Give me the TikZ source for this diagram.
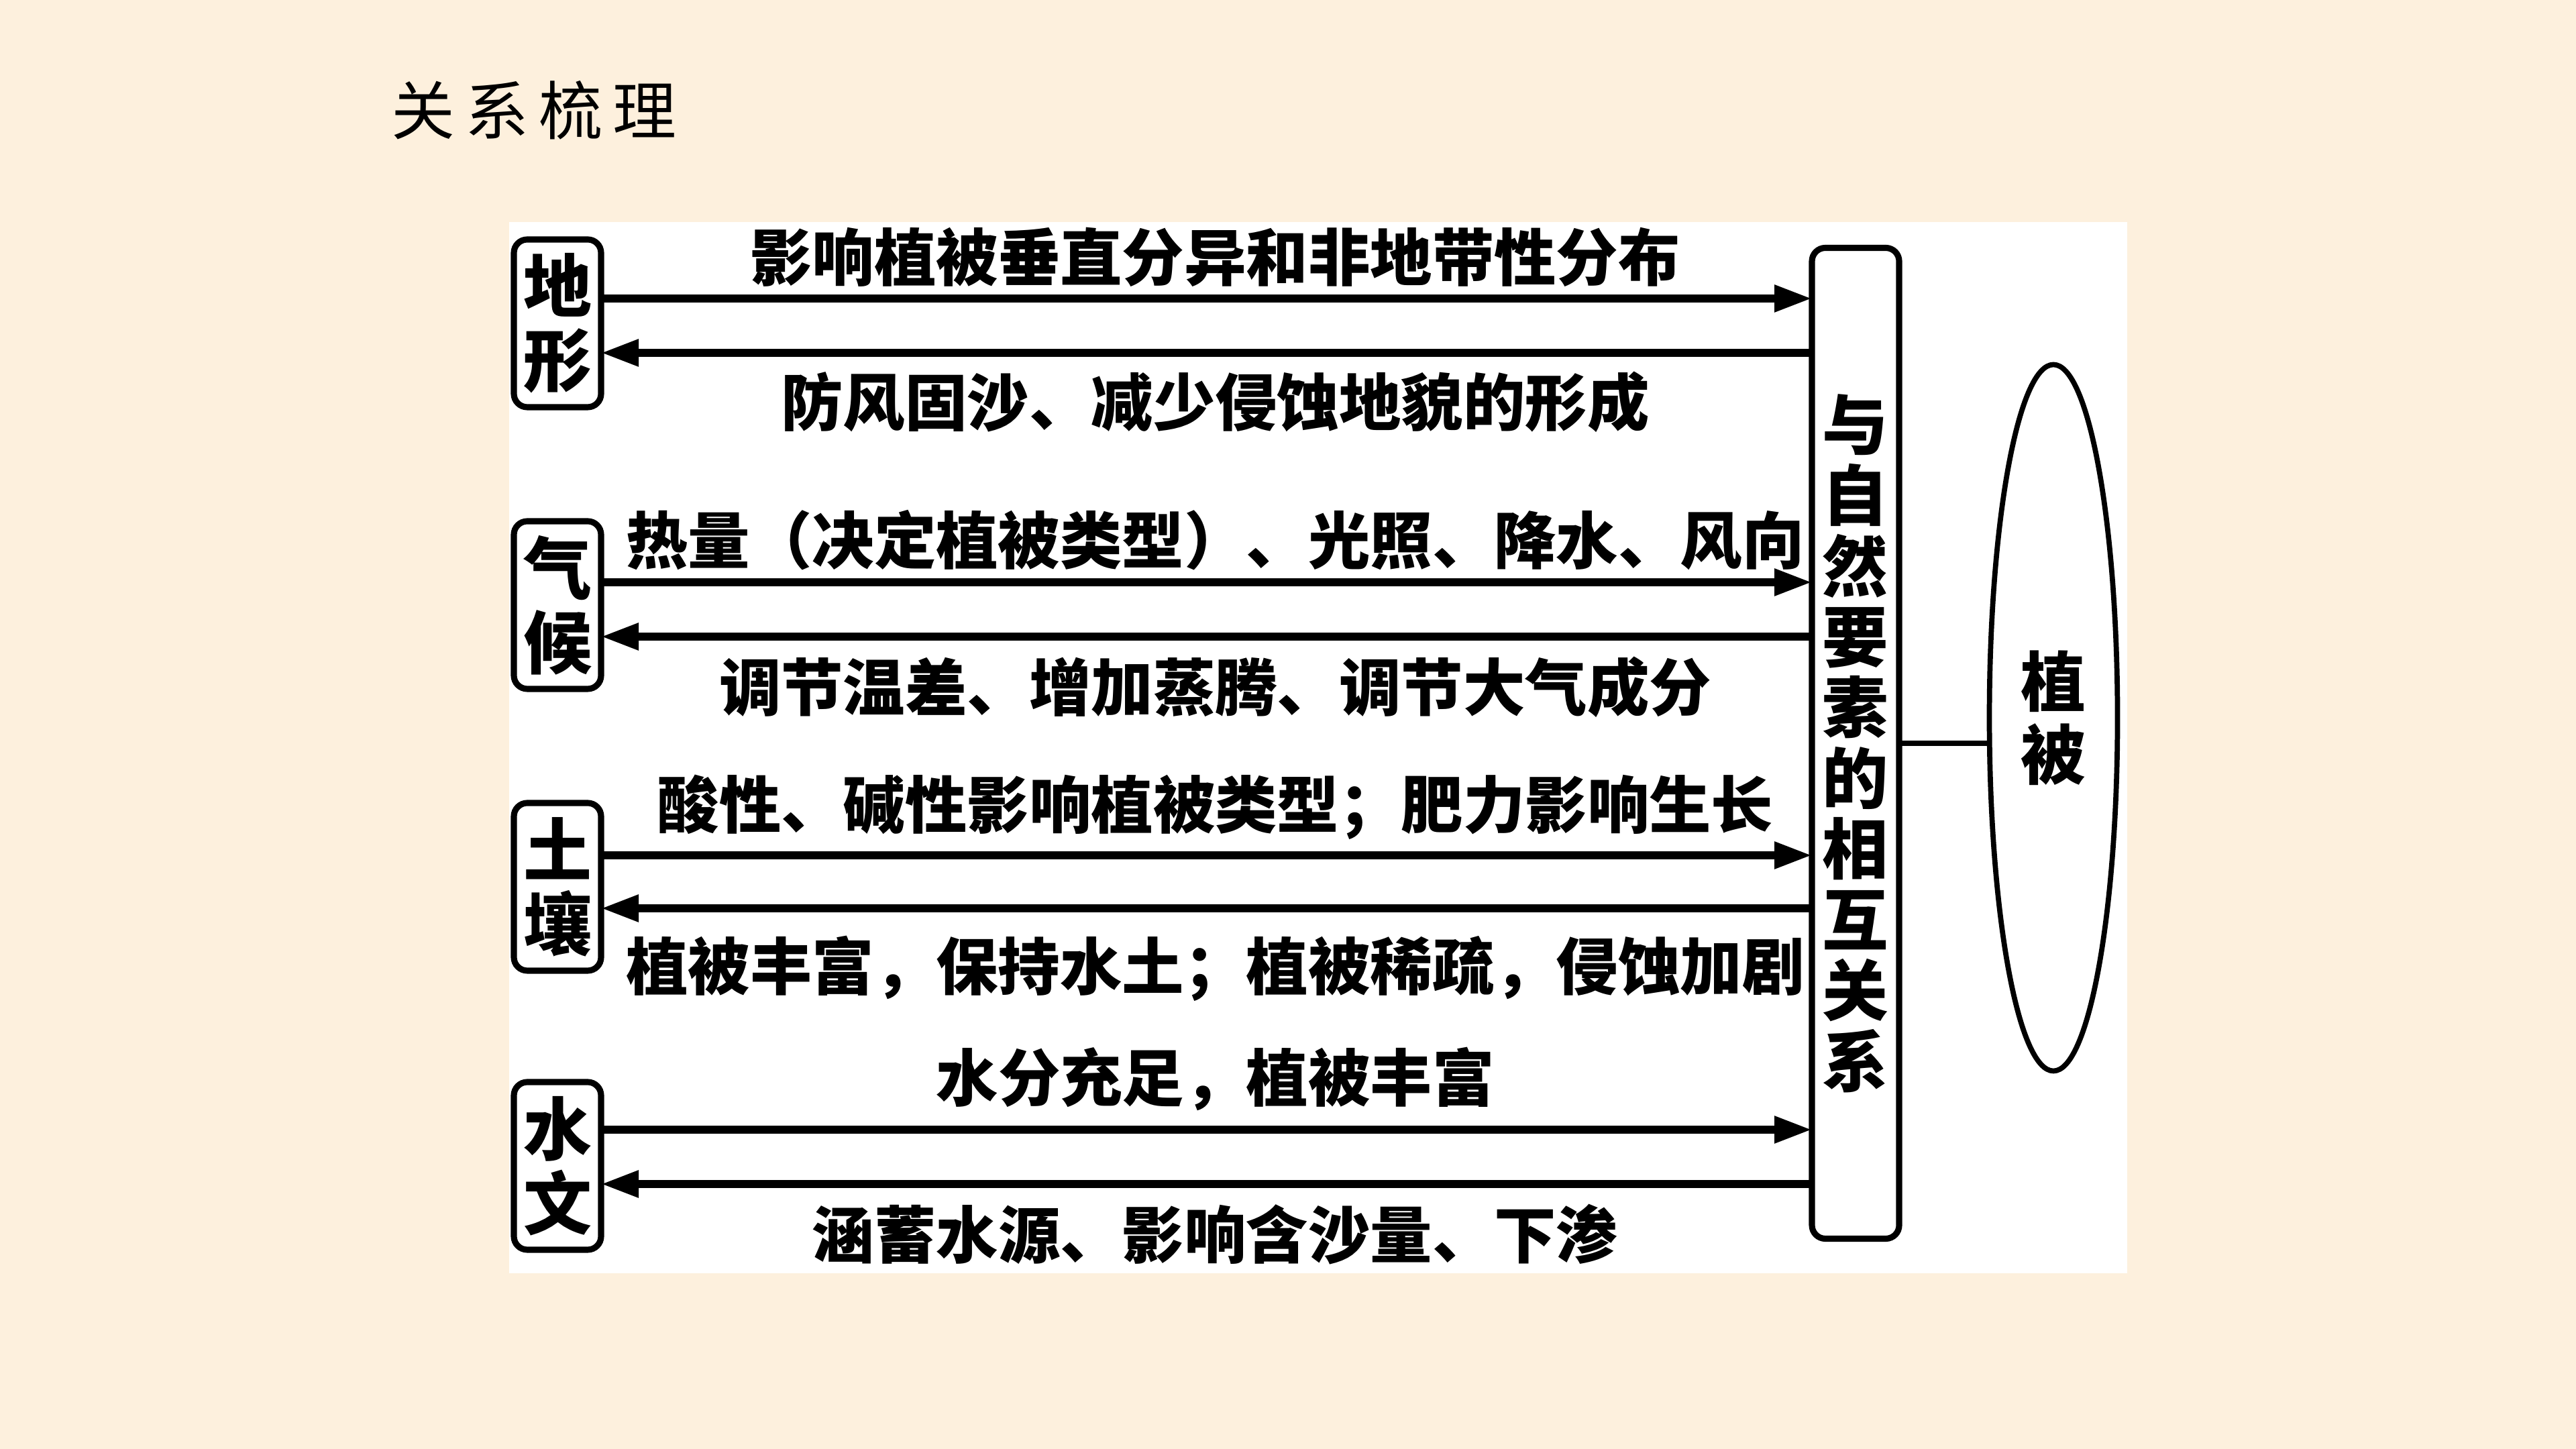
\documentclass[tikz,border=0pt]{standalone}
\usepackage{fontspec}
\newfontfamily\cjk{Noto Sans CJK SC}
\usepackage{tikz}
\usetikzlibrary{positioning}
\usetikzlibrary{arrows.meta}
\usetikzlibrary{shapes.geometric}
\usetikzlibrary{calc}
\definecolor{bgcream}{RGB}{253,240,221}
\newcommand{\tightlines}{\setlength{\lineskiplimit}{-20pt}}

\begin{document}
\begin{tikzpicture}[factor/.style={rectangle, draw=black, line width=2.6pt, rounded corners=0.2cm, minimum width=1.3cm, minimum height=2.5cm, inner sep=0pt, outer sep=0pt, align=center, font=\cjk\bfseries\fontsize{29}{31.5}\selectfont\tightlines},
        relbox/.style={rectangle, draw=black, line width=2.6pt, rounded corners=0.2cm, minimum width=1.3cm, minimum height=14.77cm, inner sep=0pt, outer sep=0pt, align=center, font=\cjk\bfseries\fontsize{28}{30}\selectfont\tightlines},
        veg/.style={ellipse, draw=black, line width=2.2pt, minimum width=1.91cm, minimum height=10.53cm, inner sep=0pt, outer sep=0pt, align=center, font=\cjk\bfseries\fontsize{27.5}{31}\selectfont\tightlines},
        link/.style={line width=3.3pt},
        up/.style={midway, above=0.12cm, xshift=0.13cm, inner sep=0pt, font=\cjk\bfseries\fontsize{26.3}{30}\selectfont},
        down/.style={midway, below=0.24cm, xshift=0.13cm, inner sep=0pt, font=\cjk\bfseries\fontsize{26.3}{30}\selectfont},
        >={Triangle[length=5.6mm,width=3.8mm]}]
            \useasboundingbox (0,0) rectangle (38.4,21.6);
            \fill[bgcream] (0,0) rectangle (38.4,21.6);
            \fill[white] (7.59,2.62) rectangle (31.71,18.29);

            \node[anchor=west, inner sep=0pt, font=\cjk\fontsize{27}{30}\selectfont] (title) at (5.83,19.96) {关\hspace{0.16em}系\hspace{0.16em}梳\hspace{0.16em}理};

            \node[factor]  (dixing) at (8.31,16.78) {地\\形};
            \node[factor]  (qihou) [below=1.7cm of dixing] {气\\候};
            \node[factor]  (turang) [below=1.7cm of qihou] {土\\壤};
            \node[factor]  (shuiwen) [below=1.66cm of turang] {水\\文};
            \node[relbox]  (rel) at (27.66,10.52) {与\\自\\然\\要\\素\\的\\相\\互\\关\\系};
            \node[veg]     (veg) at (30.61,10.90) {植\\被};

            \draw[link, ->] ($(dixing.east)+(0,0.37)$) -- node[up] {影响植被垂直分异和非地带性分布} ($(dixing.east -| rel.west)+(0,0.37)$);
            \draw[link, <-] ($(dixing.east)+(0,-0.44)$) -- node[down, below=0.22cm] {防风固沙、减少侵蚀地貌的形成} ($(dixing.east -| rel.west)+(0,-0.44)$);
            \draw[link, ->] ($(qihou.east)+(0,0.34)$) -- node[up] {热量（决定植被类型）、光照、降水、风向} ($(qihou.east -| rel.west)+(0,0.34)$);
            \draw[link, <-] ($(qihou.east)+(0,-0.47)$) -- node[down] {调节温差、增加蒸腾、调节大气成分} ($(qihou.east -| rel.west)+(0,-0.47)$);
            \draw[link, ->] ($(turang.east)+(0,0.47)$) -- node[up, above=0.18cm] {酸性、碱性影响植被类型；肥力影响生长} ($(turang.east -| rel.west)+(0,0.47)$);
            \draw[link, <-] ($(turang.east)+(0,-0.32)$) -- node[down, below=0.35cm] {植被丰富，保持水土；植被稀疏，侵蚀加剧} ($(turang.east -| rel.west)+(0,-0.32)$);
            \draw[link, ->] ($(shuiwen.east)+(0,0.54)$) -- node[up, above=0.22cm] {水分充足，植被丰富} ($(shuiwen.east -| rel.west)+(0,0.54)$);
            \draw[link, <-] ($(shuiwen.east)+(0,-0.27)$) -- node[down] {涵蓄水源、影响含沙量、下渗} ($(shuiwen.east -| rel.west)+(0,-0.27)$);

            \draw[line width=2.2pt] (rel.east) -- (rel.east -| veg.west);
        \end{tikzpicture}
\end{document}
